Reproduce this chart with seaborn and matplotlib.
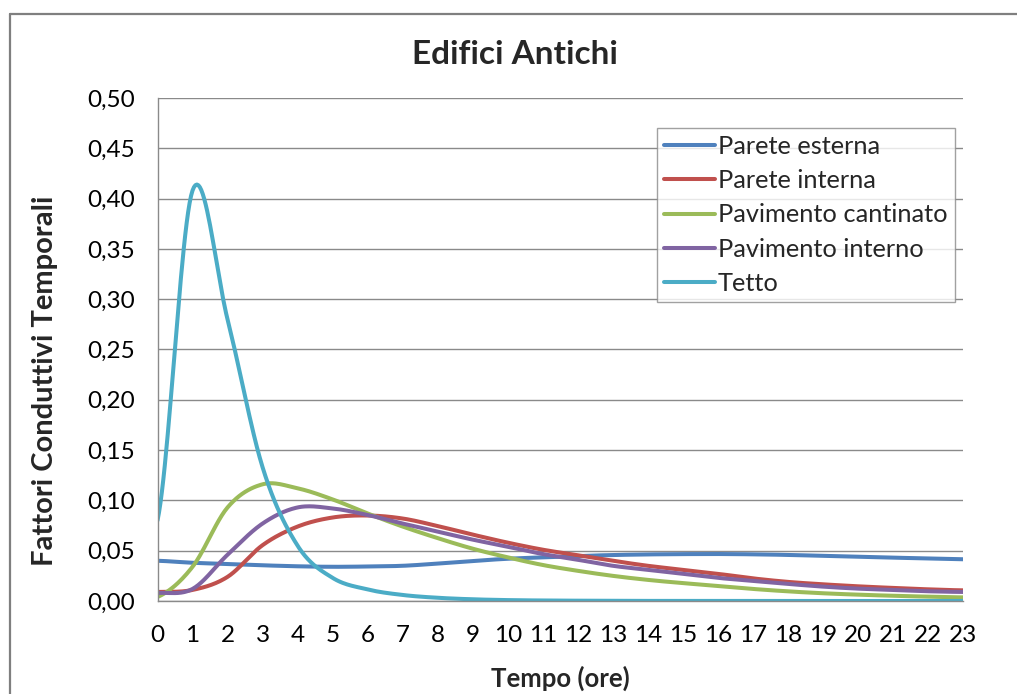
import numpy as np
import pandas as pd
import matplotlib
matplotlib.use("Agg")
import matplotlib.pyplot as plt
import seaborn as sns
from matplotlib.ticker import FuncFormatter, MultipleLocator
from matplotlib.lines import Line2D

# Hourly conductive time factors
hours = list(range(24))
parete_esterna = [0.040, 0.038, 0.0368, 0.0355, 0.0345, 0.0340, 0.0343, 0.0350, 0.0372, 0.0398,
                  0.0420, 0.0434, 0.0447, 0.0457, 0.0463, 0.0466, 0.0467, 0.0464, 0.0458, 0.0449,
                  0.0440, 0.0431, 0.0423, 0.0415]
parete_interna = [0.009, 0.011, 0.024, 0.0555, 0.074, 0.083, 0.085, 0.082, 0.0745, 0.066,
                  0.058, 0.051, 0.0455, 0.040, 0.035, 0.031, 0.027, 0.0225, 0.019, 0.0166,
                  0.0146, 0.013, 0.0116, 0.0106]
pavimento_cantinato = [0.004, 0.034, 0.093, 0.116, 0.112, 0.101, 0.087, 0.074, 0.0625, 0.052,
                       0.0434, 0.0358, 0.030, 0.025, 0.021, 0.0178, 0.015, 0.012, 0.0096, 0.0077,
                       0.0063, 0.0052, 0.0043, 0.0036]
pavimento_interno = [0.008, 0.012, 0.046, 0.077, 0.093, 0.092, 0.0855, 0.077, 0.069, 0.061,
                     0.054, 0.0467, 0.041, 0.035, 0.031, 0.027, 0.023, 0.020, 0.017, 0.0143,
                     0.0123, 0.011, 0.0097, 0.009]
tetto = [0.080, 0.408, 0.280, 0.133, 0.055, 0.023, 0.0115, 0.006, 0.0032, 0.0017,
         0.0009, 0.0005, 0.0003, 0.0002, 0.0001, 0.0001, 0.0, 0.0, 0.0, 0.0,
         0.0, 0.0, 0.0, 0.0]

series_names = ["Parete esterna", "Parete interna", "Pavimento cantinato",
                "Pavimento interno", "Tetto"]
series_values = [parete_esterna, parete_interna, pavimento_cantinato, pavimento_interno, tetto]
series_colors = ["#4F81BD", "#C0504D", "#9BBB59", "#8064A2", "#4BACC6"]
x_tick_labels = [str(h) for h in hours]


def smooth(x, y, n=24):
    """Catmull-Rom spline through the points (smoothed-line look)."""
    x = np.asarray(x, float)
    y = np.asarray(y, float)
    yp = np.concatenate([[y[0]], y, [y[-1]]])
    xs, ys = [], []
    t = np.linspace(0.0, 1.0, n, endpoint=False)
    h00 = 2 * t**3 - 3 * t**2 + 1
    h10 = t**3 - 2 * t**2 + t
    h01 = -2 * t**3 + 3 * t**2
    h11 = t**3 - t**2
    for i in range(len(x) - 1):
        p0, p1, p2, p3 = yp[i], yp[i + 1], yp[i + 2], yp[i + 3]
        m1 = (p2 - p0) / 2.0
        m2 = (p3 - p1) / 2.0
        xs.append(x[i] + t * (x[i + 1] - x[i]))
        ys.append(h00 * p1 + h10 * m1 + h01 * p2 + h11 * m2)
    xs.append([x[-1]])
    ys.append([y[-1]])
    return np.concatenate(xs), np.concatenate(ys)


frames = []
for name, vals in zip(series_names, series_values):
    sx, sy = smooth(hours, vals)
    frames.append(pd.DataFrame({"Tempo": sx, "Valore": sy, "Serie": name}))
df = pd.concat(frames, ignore_index=True)

sns.set_theme(style="white")
plt.rcParams["font.family"] = ["Lato", "DejaVu Sans"]

W, H = 1017, 694
fig = plt.figure(figsize=(W / 100, H / 100), dpi=100)
fig.patch.set_facecolor("white")
left, right, top, bottom = 157.5, 963, 98, 601
ax = fig.add_axes([left / W, 1 - bottom / H, (right - left) / W, (bottom - top) / H])

sns.lineplot(data=df, x="Tempo", y="Valore", hue="Serie", hue_order=series_names,
             palette=dict(zip(series_names, series_colors)), estimator=None, sort=False,
             linewidth=2.9, legend=False, ax=ax)
for ln in ax.get_lines():
    ln.set_solid_capstyle("round")

grid_col = "#8a8a8a"
ax.set_xlim(0, 23)
ax.set_ylim(0, 0.5)
ax.yaxis.set_major_locator(MultipleLocator(0.05))
ax.yaxis.set_major_formatter(FuncFormatter(lambda v, p: f"{v:.2f}".replace(".", ",")))
ax.set_xticks(hours)
ax.set_xticklabels(x_tick_labels)
ax.grid(axis="y", color=grid_col, linewidth=1.0)
ax.grid(axis="x", visible=False)
ax.set_axisbelow(True)
for s in ["top", "right"]:
    ax.spines[s].set_visible(False)
for s in ["left", "bottom"]:
    ax.spines[s].set_color(grid_col)
    ax.spines[s].set_linewidth(1.0)
ax.tick_params(axis="both", direction="out", length=6.5, width=1.0, color=grid_col,
               labelsize=17.5, labelcolor="black")
ax.tick_params(axis="y", pad=10)
ax.tick_params(axis="x", pad=11)
ax.set_xlabel("")
ax.set_ylabel("")

fig.text(515 / W, 1 - 55 / H, "Edifici Antichi", ha="center", va="center",
         fontsize=24, fontweight="bold")
fig.text(45 / W, 1 - 381 / H, "Fattori Conduttivi Temporali", ha="center", va="center",
         rotation=90, fontsize=21, fontweight="bold")
fig.text(560 / W, 1 - 678 / H, "Tempo (ore)", ha="center", va="center",
         fontsize=18.5, fontweight="bold")

handles = [Line2D([0], [0], color=c, linewidth=2.9) for c in series_colors]
leg = ax.legend(handles, series_names, loc="upper left",
                bbox_to_anchor=(657 / W, 1 - 128 / H), bbox_transform=fig.transFigure,
                fontsize=18.3, frameon=True, fancybox=False, handlelength=2.0,
                handletextpad=0.12, labelspacing=0.44, borderpad=0.28, borderaxespad=0)
leg.get_frame().set_edgecolor(grid_col)
leg.get_frame().set_linewidth(1.0)

# chart-area border (left and top edges)
border = "#7f7f7f"
fig.add_artist(Line2D([10 / W, 10 / W], [0, 1 - 14 / H], transform=fig.transFigure,
                      color=border, linewidth=1.6))
fig.add_artist(Line2D([10 / W, 1], [1 - 14 / H, 1 - 14 / H], transform=fig.transFigure,
                      color=border, linewidth=1.6))

fig.savefig("out.png", dpi=100)
